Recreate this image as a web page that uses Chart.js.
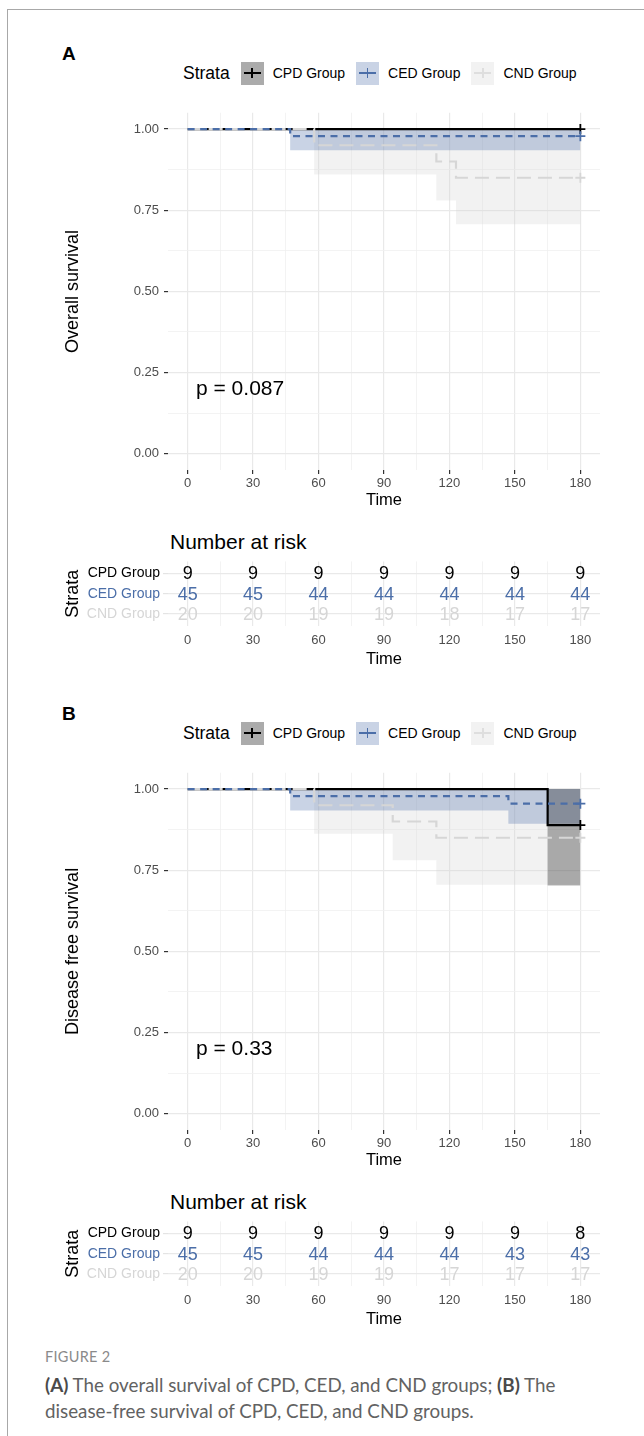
<!DOCTYPE html>
<html>
<head>
<meta charset="utf-8">
<script src="https://cdn.jsdelivr.net/npm/chart.js@4.4.1/dist/chart.umd.min.js"></script>
<style>
  body { margin: 0; background: #fff; width: 644px; height: 1436px; position: relative; overflow: hidden;
         font-family: "Liberation Sans", Arial, sans-serif; }
  .frame { position: absolute; left: 7px; top: 9px; width: 700px; height: 1500px;
           border-top: 1.5px solid #a8a8a8; border-left: 1.5px solid #a8a8a8; }
  .abs { position: absolute; white-space: nowrap; }
  .tag { font-size: 19px; font-weight: bold; line-height: 19px; }
  .legend { display: flex; align-items: center; height: 24px; color: #000; }
  .legend .title { font-size: 17.5px; margin-right: 11px; }
  .legend .lab { font-size: 14px; margin-left: 9px; margin-right: 11px; }
  .key { position: relative; width: 23px; height: 23px; }
  .key .h { position: absolute; left: 3px; right: 3px; top: 10px; height: 2.2px; }
  .key .v { position: absolute; left: 10.5px; top: 6px; width: 1.6px; height: 10px; }
  .pval { font-size: 21px; line-height: 24px; }
  .risk-title { font-size: 21px; line-height: 24px; }
  canvas { position: absolute; left: 0; }
  .fig { left: 45px; font-family: Lato, "Open Sans", sans-serif; color: #8a8a8a; font-size: 14.5px; letter-spacing: 0.3px; }
  .cap { left: 45px; font-family: Lato, "Open Sans", sans-serif; color: #626262; font-size: 18.8px; line-height: 26px; white-space: normal; width: 560px; }
  .cap b { color: #4a4a4a; }
</style>
</head>
<body>
<div class="frame"></div>

<div class="abs tag" style="left:62px;top:44px">A</div>
<div class="abs legend" id="legendA" style="left:183px;top:61px"></div>
<canvas id="survA" width="644" height="410" style="top:100px"></canvas>
<div class="abs pval" style="left:196px;top:376px">p = 0.087</div>
<div class="abs risk-title" style="left:170px;top:530px">Number at risk</div>
<canvas id="riskA" width="644" height="119" style="top:550px"></canvas>

<div class="abs tag" style="left:62px;top:704px">B</div>
<div class="abs legend" id="legendB" style="left:183px;top:721px"></div>
<canvas id="survB" width="644" height="410" style="top:760px"></canvas>
<div class="abs pval" style="left:196px;top:1036px">p = 0.33</div>
<div class="abs risk-title" style="left:170px;top:1190px">Number at risk</div>
<canvas id="riskB" width="644" height="119" style="top:1210px"></canvas>

<div class="abs fig" style="top:1348px">FIGURE 2</div>
<div class="abs cap" style="top:1372px"><b>(A)</b> The overall survival of CPD, CED, and CND groups; <b>(B)</b> The disease-free survival of CPD, CED, and CND groups.</div>

<script>
// strata and axes
const strata = ["CPD Group", "CED Group", "CND Group"];
const strataColors = ["#000000", "#4b6ea8", "#d6d6d6"];
const bandColors = ["rgba(0,0,0,0.3)", "rgba(75,110,168,0.3)", "rgba(211,211,211,0.3)"];
const xTicks = [0, 15, 30, 45, 60, 75, 90, 105, 120, 135, 150, 165, 180];
const yTicks = [0, 0.125, 0.25, 0.375, 0.5, 0.625, 0.75, 0.875, 1];
const riskTimes = [0, 30, 60, 90, 120, 150, 180];

// (A) overall survival
const osCpdTime = [0, 180];
const osCpdSurv = [1, 1];
const osCpdLower = [1, 1];
const osCedTime = [0, 47, 180];
const osCedSurv = [1, 0.978, 0.978];
const osCedLower = [1, 0.935, 0.935];
const osCndTime = [0, 58, 114, 123, 180];
const osCndSurv = [1, 0.95, 0.9, 0.85, 0.85];
const osCndLower = [1, 0.86, 0.78, 0.707, 0.707];
const osRiskCpd = [9, 9, 9, 9, 9, 9, 9];
const osRiskCed = [45, 45, 44, 44, 44, 44, 44];
const osRiskCnd = [20, 20, 19, 19, 18, 17, 17];

// (B) disease free survival
const dfsCpdTime = [0, 165, 180];
const dfsCpdSurv = [1, 0.889, 0.889];
const dfsCpdLower = [1, 0.703, 0.703];
const dfsCedTime = [0, 47, 147, 180];
const dfsCedSurv = [1, 0.978, 0.955, 0.955];
const dfsCedLower = [1, 0.934, 0.893, 0.893];
const dfsCndTime = [0, 58, 94, 114, 180];
const dfsCndSurv = [1, 0.95, 0.9, 0.85, 0.85];
const dfsCndLower = [1, 0.862, 0.781, 0.705, 0.705];
const dfsRiskCpd = [9, 9, 9, 9, 9, 9, 8];
const dfsRiskCed = [45, 45, 44, 44, 44, 43, 43];
const dfsRiskCnd = [20, 20, 19, 19, 17, 17, 17];

Chart.defaults.font.family = '"Liberation Sans", Arial, sans-serif';
Chart.defaults.animation = false;

const lineDash = [[], [7, 5.5], [14, 7]];
const isMajorX = (v) => v % 30 === 0;
const isMajorY = (v) => Math.abs(v * 4 - Math.round(v * 4)) < 1e-9;

const toPoints = (times, values) => times.map((t, i) => ({ x: t, y: values[i] }));

const buildLegend = (id) => {
  const el = document.getElementById(id);
  let html = '<span class="title">Strata</span>';
  strata.forEach((name, i) => {
    const keyBg = i === 0 ? "#ababab" : i === 1 ? "#c9d3e5" : "#f2f2f2";
    const lineCol = i === 2 ? "#dedede" : strataColors[i];
    html += `<div class="key" style="background:${keyBg}"><div class="h" style="background:${lineCol}"></div>` +
            `<div class="v" style="background:${lineCol}"></div></div><span class="lab">${name}</span>`;
  });
  el.innerHTML = html;
};

const survivalChart = (id, curves, yTitle) => {
  const datasets = [];
  curves.forEach((c, i) => {
    datasets.push({
      data: toPoints(c.time, c.lower),
      stepped: true,
      borderWidth: 0,
      pointRadius: 0,
      backgroundColor: bandColors[i],
      fill: { value: 1 },
      order: 20 + i,
    });
  });
  const lineOrder = [3, 1, 2];
  curves.forEach((c, i) => {
    datasets.push({
      data: toPoints(c.time, c.surv),
      stepped: true,
      borderColor: strataColors[i],
      borderWidth: 2.2,
      borderDash: lineDash[i],
      borderCapStyle: "butt",
      fill: false,
      pointStyle: "cross",
      pointRadius: (ctx) => (ctx.dataIndex === c.time.length - 1 ? 5 : 0),
      pointBorderColor: strataColors[i],
      pointBorderWidth: 1.8,
      order: lineOrder[i],
    });
  });

  return new Chart(document.getElementById(id), {
    type: "line",
    data: { datasets },
    options: {
      responsive: false,
      devicePixelRatio: 1,
      layout: { padding: { left: 58, right: 44, top: 10, bottom: 0 } },
      plugins: { legend: { display: false }, tooltip: { enabled: false } },
      scales: {
        x: {
          type: "linear",
          min: -9,
          max: 189,
          afterBuildTicks: (scale) => { scale.ticks = xTicks.map((v) => ({ value: v })); },
          afterFit: (scale) => { scale.height = 40; },
          border: { display: false },
          grid: {
            color: (ctx) => (isMajorX(ctx.tick.value) ? "#e9e9e9" : "#f0f0f0"),
            lineWidth: (ctx) => (isMajorX(ctx.tick.value) ? 1.2 : 0.8),
            tickColor: (ctx) => (isMajorX(ctx.tick.value) ? "#333333" : "rgba(0,0,0,0)"),
            tickLength: 4,
          },
          ticks: {
            autoSkip: false,
            maxRotation: 0,
            padding: 2,
            color: "#4d4d4d",
            font: { size: 13 },
            callback: (v) => (isMajorX(v) ? String(v) : ""),
          },
          title: { display: true, text: "Time", color: "#000", font: { size: 16.5 }, padding: { top: 0, bottom: 0 } },
        },
        y: {
          min: -0.05,
          max: 1.05,
          afterBuildTicks: (scale) => { scale.ticks = yTicks.map((v) => ({ value: v })); },
          afterFit: (scale) => { scale.width = 110; },
          border: { display: false },
          grid: {
            color: (ctx) => (isMajorY(ctx.tick.value) ? "#e9e9e9" : "#f0f0f0"),
            lineWidth: (ctx) => (isMajorY(ctx.tick.value) ? 1.2 : 0.8),
            tickColor: (ctx) => (isMajorY(ctx.tick.value) ? "#333333" : "rgba(0,0,0,0)"),
            tickLength: 4,
          },
          ticks: {
            autoSkip: false,
            padding: 5,
            color: "#4d4d4d",
            font: { size: 13 },
            callback: (v) => (isMajorY(v) ? v.toFixed(2) : ""),
          },
          title: { display: true, text: yTitle, color: "#000", font: { size: 18 } },
        },
      },
    },
  });
};

// writes the number at risk on top of each (time, stratum) point
const riskTextPlugin = {
  id: "riskText",
  afterDatasetsDraw(chart) {
    const { ctx } = chart;
    ctx.save();
    ctx.font = '18px "Liberation Sans", Arial, sans-serif';
    ctx.textAlign = "center";
    ctx.textBaseline = "middle";
    chart.data.datasets.forEach((ds, i) => {
      ctx.fillStyle = strataColors[i];
      chart.getDatasetMeta(i).data.forEach((pt, j) => {
        ctx.fillText(String(ds.data[j].n), pt.x, pt.y + 1);
      });
    });
    ctx.restore();
  },
};

const riskChart = (id, rows) => {
  const datasets = rows.map((row, r) => ({
    data: riskTimes.map((t, j) => ({ x: t, y: r, n: row[j] })),
    pointRadius: 0,
    showLine: false,
  }));
  return new Chart(document.getElementById(id), {
    type: "scatter",
    data: { datasets },
    plugins: [riskTextPlugin],
    options: {
      responsive: false,
      devicePixelRatio: 1,
      layout: { padding: { left: 58, right: 44, top: 6, bottom: 0 } },
      plugins: { legend: { display: false }, tooltip: { enabled: false } },
      scales: {
        x: {
          type: "linear",
          min: -9,
          max: 189,
          afterBuildTicks: (scale) => { scale.ticks = xTicks.map((v) => ({ value: v })); },
          afterFit: (scale) => { scale.height = 43; },
          border: { display: false },
          grid: {
            drawTicks: false,
            color: (ctx) => (isMajorX(ctx.tick.value) ? "#e9e9e9" : "#f0f0f0"),
            lineWidth: (ctx) => (isMajorX(ctx.tick.value) ? 1.2 : 0.8),
          },
          ticks: {
            autoSkip: false,
            maxRotation: 0,
            padding: 7,
            color: "#4d4d4d",
            font: { size: 13 },
            callback: (v) => (isMajorX(v) ? String(v) : ""),
          },
          title: { display: true, text: "Time", color: "#000", font: { size: 16.5 }, padding: { top: 0, bottom: 0 } },
        },
        y: {
          type: "linear",
          reverse: true,
          min: -0.6,
          max: 2.6,
          afterBuildTicks: (scale) => { scale.ticks = strata.map((s, i) => ({ value: i })); },
          afterFit: (scale) => { scale.width = 110; },
          border: { display: false },
          grid: { color: "#e9e9e9", lineWidth: 1.2, tickColor: "#e4e4e4", tickLength: 5 },
          ticks: {
            autoSkip: false,
            padding: 3,
            font: { size: 14 },
            color: (ctx) => strataColors[ctx.index],
            callback: (v) => strata[v],
          },
          title: { display: true, text: "Strata", color: "#000", font: { size: 18 } },
        },
      },
    },
  });
};

buildLegend("legendA");
buildLegend("legendB");

survivalChart("survA", [
  { time: osCpdTime, surv: osCpdSurv, lower: osCpdLower },
  { time: osCedTime, surv: osCedSurv, lower: osCedLower },
  { time: osCndTime, surv: osCndSurv, lower: osCndLower },
], "Overall survival");
riskChart("riskA", [osRiskCpd, osRiskCed, osRiskCnd]);

survivalChart("survB", [
  { time: dfsCpdTime, surv: dfsCpdSurv, lower: dfsCpdLower },
  { time: dfsCedTime, surv: dfsCedSurv, lower: dfsCedLower },
  { time: dfsCndTime, surv: dfsCndSurv, lower: dfsCndLower },
], "Disease free survival");
riskChart("riskB", [dfsRiskCpd, dfsRiskCed, dfsRiskCnd]);
</script>
</body>
</html>
